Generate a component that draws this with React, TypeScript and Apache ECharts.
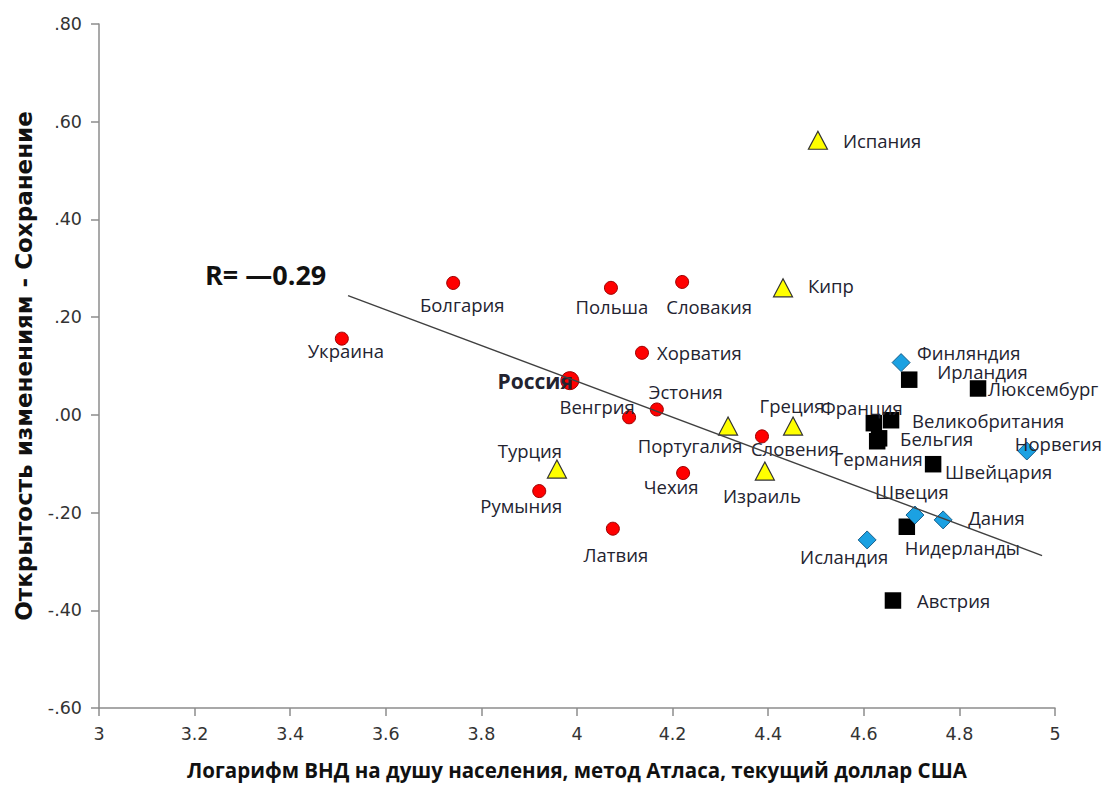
import React, { useEffect, useRef } from 'react';
import * as echarts from 'echarts';

// ---- Data ----
const postSocNames = ['Украина', 'Болгария', 'Польша', 'Словакия', 'Хорватия', 'Россия', 'Эстония', 'Венгрия', 'Словения', 'Чехия', 'Румыния', 'Латвия'];
const postSocX = [3.508, 3.741, 4.071, 4.220, 4.136, 3.985, 4.167, 4.109, 4.387, 4.222, 3.921, 4.075];
const postSocY = [0.156, 0.270, 0.260, 0.272, 0.127, 0.070, 0.011, -0.005, -0.044, -0.119, -0.156, -0.233];

const southNames = ['Испания', 'Кипр', 'Турция', 'Португалия', 'Греция', 'Израиль'];
const southX = [4.504, 4.431, 3.958, 4.316, 4.452, 4.393];
const southY = [0.562, 0.260, -0.111, -0.023, -0.023, -0.115];

const nordicNames = ['Финляндия', 'Норвегия', 'Швеция', 'Дания', 'Исландия'];
const nordicX = [4.678, 4.941, 4.707, 4.766, 4.607];
const nordicY = [0.107, -0.074, -0.205, -0.215, -0.256];

const westNames = ['Ирландия', 'Люксембург', 'Франция', 'Великобритания', 'Бельгия', 'Германия', 'Швейцария', 'Нидерланды', 'Австрия'];
const westX = [4.695, 4.839, 4.621, 4.657, 4.632, 4.628, 4.745, 4.690, 4.661];
const westY = [0.072, 0.054, -0.017, -0.011, -0.048, -0.054, -0.101, -0.229, -0.380];

const trendX = [3.521, 4.973];
const trendY = [0.244, -0.288];

const xTicks = { min: 3, max: 5, interval: 0.2 };
const yTicks = { min: -0.6, max: 0.8, interval: 0.2 };

const rText = 'R= —0.29';
const xTitle = 'Логарифм ВНД на душу населения, метод Атласа, текущий доллар США';
const yTitle = 'Открытость изменениям - Сохранение';

// ---- Label layout (align, dx, dy relative to marker centre) ----
const labelLayout: Record<string, [string, number, number]> = {
  'Украина': ['center', 4, 12],
  'Болгария': ['center', 9, 22],
  'Польша': ['center', 1, 19],
  'Словакия': ['center', 27, 25],
  'Хорватия': ['left', 15, 0],
  'Россия': ['right', 3, 0],
  'Эстония': ['center', 29, -18],
  'Венгрия': ['center', -32, -11],
  'Словения': ['center', 33, 12],
  'Чехия': ['center', -12, 14],
  'Румыния': ['center', -18, 14],
  'Латвия': ['center', 3, 26],
  'Испания': ['left', 25, 0],
  'Кипр': ['left', 25, -2],
  'Турция': ['center', -27, -19],
  'Португалия': ['center', -38, 19],
  'Греция': ['center', -1, -21],
  'Израиль': ['center', -3, 24],
  'Финляндия': ['left', 16, -10],
  'Ирландия': ['left', 28, -8],
  'Люксембург': ['left', 10, 0],
  'Франция': ['center', -12, -16],
  'Великобритания': ['left', 21, 0],
  'Бельгия': ['left', 21, 0],
  'Германия': ['center', 1, 17],
  'Швейцария': ['left', 12, 7],
  'Норвегия': ['left', -12, -8],
  'Швеция': ['center', -3, -24],
  'Дания': ['left', 25, -2],
  'Исландия': ['center', -23, 17],
  'Нидерланды': ['left', -2, 21],
  'Австрия': ['left', 24, 0],
};

const FONT = 'Open Sans';
const TICK_FONT = 'DejaVu Sans';
const LABEL_COLOR = '#232330';

function buildData(names: string[], xs: number[], ys: number[]) {
  return names.map((n, i) => {
    const lay = labelLayout[n] || ['center', 0, 0];
    const isRussia = n === 'Россия';
    return {
      name: n,
      value: [xs[i], ys[i]],
      symbolSize: isRussia ? 18 : undefined,
      label: {
        show: true,
        formatter: n,
        position: 'inside',
        align: lay[0],
        verticalAlign: 'middle',
        offset: [lay[1], lay[2]],
        color: LABEL_COLOR,
        fontFamily: FONT,
        fontSize: isRussia ? 21 : 18.5,
        fontWeight: isRussia ? 'bold' : 'normal',
      },
    };
  });
}

function fmtY(v: number) {
  if (Math.abs(v) < 1e-9) v = 0;
  return v.toFixed(2).replace(/^(-?)0\./, '$1.');
}

export default function App() {
  const ref = useRef<HTMLDivElement>(null);
  useEffect(() => {
    document.body.style.margin = '0';
    const chart = echarts.init(ref.current!, null, { renderer: 'svg' });
    const axisCommon = {
      axisLine: { show: true, onZero: false, lineStyle: { color: '#8c8c8c', width: 1.5 } },
      axisTick: { show: true, length: 8, lineStyle: { color: '#8c8c8c', width: 1.5 } },
      splitLine: { show: false },
      axisLabel: { color: '#333', fontFamily: TICK_FONT, fontSize: 17.5 },
    };
    chart.setOption({
      animation: false,
      backgroundColor: '#fff',
      grid: { left: 99, right: 50, top: 24, bottom: 75, containLabel: false },
      xAxis: {
        type: 'value',
        min: xTicks.min,
        max: xTicks.max,
        interval: xTicks.interval,
        name: xTitle,
        nameLocation: 'middle',
        nameGap: 51,
        nameTextStyle: { color: '#111', fontFamily: FONT, fontSize: 20.5, fontWeight: 'bold' },
        ...axisCommon,
        axisLabel: { ...axisCommon.axisLabel, margin: 17 },
      },
      yAxis: {
        type: 'value',
        min: yTicks.min,
        max: yTicks.max,
        interval: yTicks.interval,
        name: yTitle,
        nameLocation: 'middle',
        nameGap: 64,
        nameTextStyle: { color: '#111', fontFamily: TICK_FONT, fontSize: 23, fontWeight: 'bold' },
        ...axisCommon,
        axisLabel: { ...axisCommon.axisLabel, margin: 17, formatter: fmtY },
      },
      graphic: [
        {
          type: 'text',
          left: 205,
          top: 261,
          style: { text: rText, fontFamily: FONT, fontWeight: 'bold', fontSize: 27, fill: '#111' },
        },
      ],
      series: [
        {
          type: 'scatter',
          name: 'west',
          symbol: 'rect',
          symbolSize: 16.5,
          itemStyle: { color: '#000000', opacity: 1 },
          data: buildData(westNames, westX, westY),
          z: 2,
        },
        {
          type: 'scatter',
          name: 'nordic',
          symbol: 'diamond',
          symbolSize: 18,
          itemStyle: { color: '#1ba1e2', borderColor: '#1a5f8a', borderWidth: 1, opacity: 1 },
          data: buildData(nordicNames, nordicX, nordicY),
          z: 2,
        },
        {
          type: 'scatter',
          name: 'south',
          symbol: 'triangle',
          symbolSize: [19, 18],
          itemStyle: { color: '#ffff00', borderColor: '#333', borderWidth: 1.2, opacity: 1 },
          data: buildData(southNames, southX, southY),
          z: 2,
        },
        {
          type: 'scatter',
          name: 'postsoc',
          symbol: 'circle',
          symbolSize: 13,
          itemStyle: { color: '#ff0000', borderColor: '#9b0000', borderWidth: 1, opacity: 1 },
          data: buildData(postSocNames, postSocX, postSocY),
          z: 2,
        },
        {
          type: 'line',
          name: 'trend',
          data: trendX.map((x, i) => [x, trendY[i]]),
          symbol: 'none',
          lineStyle: { color: '#404040', width: 1.4 },
          z: 3,
        },
      ],
    });
    return () => chart.dispose();
  }, []);
  return <div ref={ref} style={{ width: 1105, height: 785 }} />;
}
